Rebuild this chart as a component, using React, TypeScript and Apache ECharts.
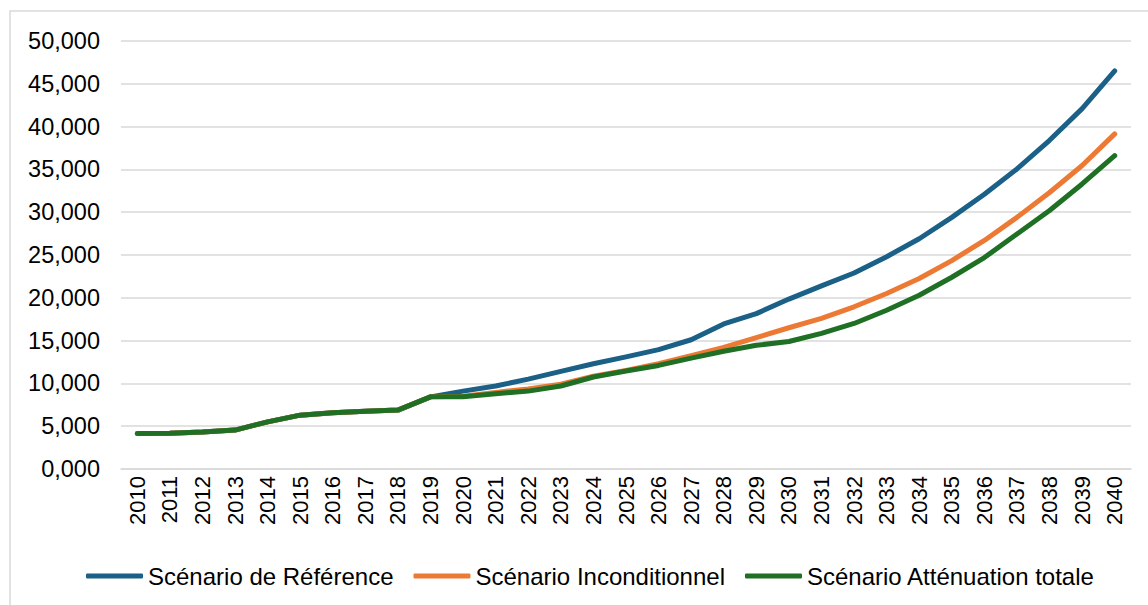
import React, { useEffect, useRef } from "react";
import * as echarts from "echarts";

const years = [
  "2010", "2011", "2012", "2013", "2014", "2015", "2016", "2017", "2018", "2019", "2020",
  "2021", "2022", "2023", "2024", "2025", "2026", "2027", "2028", "2029", "2030",
  "2031", "2032", "2033", "2034", "2035", "2036", "2037", "2038", "2039", "2040",
];

const reference = [
  4.16, 4.17, 4.31, 4.55, 5.51, 6.29, 6.56, 6.76, 6.88, 8.43, 9.1,
  9.7, 10.5, 11.4, 12.3, 13.1, 13.95, 15.1, 16.95, 18.15, 19.85,
  21.4, 22.9, 24.8, 26.9, 29.4, 32.1, 35.05, 38.4, 42.1, 46.5,
];

const inconditionnel = [
  4.16, 4.17, 4.31, 4.55, 5.51, 6.29, 6.56, 6.76, 6.88, 8.43, 8.5,
  8.95, 9.35, 9.9, 10.85, 11.5, 12.3, 13.25, 14.2, 15.35, 16.5,
  17.6, 18.95, 20.5, 22.25, 24.35, 26.7, 29.4, 32.3, 35.45, 39.15,
];

const attenuation = [
  4.16, 4.17, 4.31, 4.55, 5.51, 6.29, 6.56, 6.76, 6.88, 8.43, 8.43,
  8.8, 9.1, 9.7, 10.75, 11.45, 12.1, 12.95, 13.75, 14.45, 14.9,
  15.85, 17.0, 18.55, 20.3, 22.4, 24.7, 27.45, 30.2, 33.3, 36.6,
];

const seriesNames = [
  "Scénario de Référence",
  "Scénario Inconditionnel",
  "Scénario Atténuation totale",
];
const colors = ["#1b6086", "#ec7a35", "#1f7024"];

const FONT = "'Liberation Sans', Arial, sans-serif";

export default function App() {
  const ref = useRef<HTMLDivElement>(null);

  useEffect(() => {
    if (!ref.current) return;
    const chart = echarts.init(ref.current, undefined, { renderer: "svg" });
    const datasets = [reference, inconditionnel, attenuation];
    chart.setOption({
      animation: false,
      backgroundColor: "#ffffff",
      textStyle: { fontFamily: FONT },
      graphic: [
        {
          type: "rect",
          shape: { x: 10, y: 11, width: 1300, height: 800 },
          style: { fill: "none", stroke: "#d9d9d9", lineWidth: 1.5 },
          silent: true,
          z: -1,
        },
      ],
      grid: { left: 121, right: 17, top: 41, bottom: 136 },
      legend: {
        left: 81,
        top: 559,
        itemWidth: 57,
        itemHeight: 5,
        itemGap: 20,
        icon: "roundRect",
        textStyle: { fontFamily: FONT, fontSize: 24, color: "#000000" },
        data: seriesNames,
      },
      xAxis: {
        type: "category",
        data: years,
        boundaryGap: true,
        axisLine: { show: true, lineStyle: { color: "#d9d9d9", width: 1.5 } },
        axisTick: { show: false },
        axisLabel: {
          rotate: 90,
          interval: 0,
          margin: 7,
          fontSize: 22,
          fontFamily: FONT,
          color: "#000000",
        },
      },
      yAxis: {
        type: "value",
        min: 0,
        max: 50,
        interval: 5,
        axisLine: { show: false },
        axisTick: { show: false },
        splitLine: { show: true, lineStyle: { color: "#d9d9d9", width: 1.5 } },
        axisLabel: {
          margin: 21,
          fontSize: 23.5,
          fontFamily: FONT,
          color: "#000000",
          formatter: (v: number) => v.toFixed(3).replace(".", ","),
        },
      },
      series: datasets.map((d, i) => ({
        name: seriesNames[i],
        type: "line",
        data: d,
        showSymbol: false,
        symbol: "none",
        color: colors[i],
        lineStyle: { width: 5, color: colors[i], cap: "round", join: "round" },
        itemStyle: { color: colors[i] },
      })),
    });
    return () => chart.dispose();
  }, []);

  return (
    <div
      ref={ref}
      style={{ position: "fixed", left: 0, top: 0, width: 1148, height: 605 }}
    />
  );
}
